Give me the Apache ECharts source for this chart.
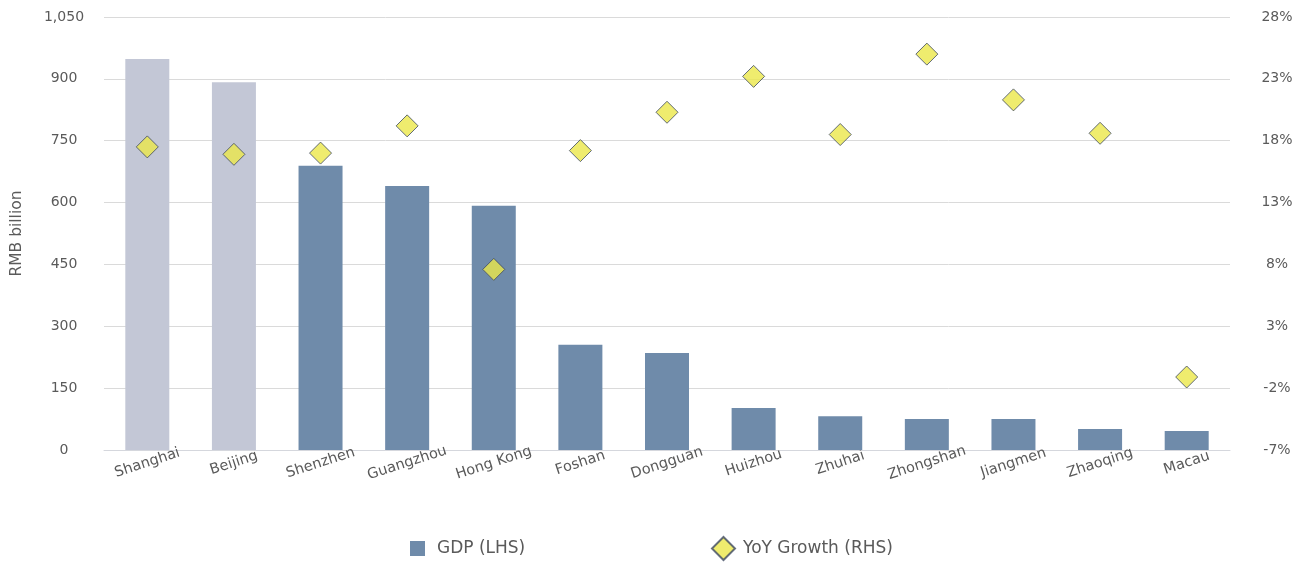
<!DOCTYPE html>
<html>
<head>
<meta charset="utf-8">
<script src="https://cdn.jsdelivr.net/npm/echarts@6/dist/echarts.min.js"></script>
<style>
  html, body { margin: 0; padding: 0; background: #ffffff; }
  #chart { width: 1306px; height: 562px; }
</style>
</head>
<body>
<div id="chart"></div>
<script>
// Cities in the order they are ranked by GDP
const cities = ['Shanghai', 'Beijing', 'Shenzhen', 'Guangzhou', 'Hong Kong', 'Foshan',
  'Dongguan', 'Huizhou', 'Zhuhai', 'Zhongshan', 'Jiangmen', 'Zhaoqing', 'Macau'];

// GDP, RMB billion (left axis)
const gdp = [948, 892, 689, 640, 592, 255, 235, 102, 82, 75, 75, 51, 46];

// Year-on-year growth, % (right axis)
const yoyGrowth = [17.5, 16.9, 17.0, 19.2, 7.6, 17.2, 20.3, 23.2, 18.5, 25.0, 21.3, 18.6, -1.1];

// Cities outside the Greater Bay Area, drawn in a lighter shade
const benchmarkCities = ['Shanghai', 'Beijing'];

// Right axis tick labels, %
const growthTicks = [-7, -2, 3, 8, 13, 18, 23, 28];

const FONT = 'DejaVu Sans';
const TEXT = '#5A5A5A';
const DARK = '#6F8BAA';
const LIGHT = '#C3C7D6';

const chart = echarts.init(document.getElementById('chart'), null, { renderer: 'canvas' });

chart.setOption({
  animation: false,
  backgroundColor: '#ffffff',
  textStyle: { fontFamily: FONT, color: TEXT },
  grid: { left: 104, right: 76, top: 17, bottom: 112, containLabel: false },
  legend: [
    {
      data: [{ name: 'GDP (LHS)', icon: 'rect' }],
      left: 410, top: 540, padding: 0,
      itemWidth: 15, itemHeight: 15, itemGap: 0,
      textStyle: { fontFamily: FONT, fontSize: 17, color: TEXT, padding: [0, 0, 0, 7] }
    },
    {
      data: ['YoY Growth (RHS)'],
      left: 711, top: 536, padding: 0,
      itemWidth: 23, itemHeight: 23, itemGap: 0,
      textStyle: { fontFamily: FONT, fontSize: 17, color: TEXT, padding: [0, 0, 0, 3] }
    }
  ],
  xAxis: {
    type: 'category',
    data: cities,
    axisLine: { show: true, lineStyle: { color: '#D5D7DD', width: 1 } },
    axisTick: { show: false },
    axisLabel: {
      rotate: 18,
      align: 'center',
      verticalAlign: 'middle',
      margin: 13,
      fontFamily: FONT,
      fontSize: 14.5,
      color: TEXT,
      interval: 0
    }
  },
  yAxis: [
    {
      type: 'value',
      min: 0, max: 1050, interval: 150,
      name: 'RMB billion',
      nameLocation: 'middle',
      nameGap: 79,
      nameTextStyle: { fontFamily: FONT, fontSize: 15.5, color: TEXT },
      axisLine: { show: false },
      axisTick: { show: false },
      splitLine: { show: true, lineStyle: { color: '#DADADA', width: 1 } },
      axisLabel: {
        align: 'center',
        margin: 40,
        fontFamily: FONT, fontSize: 14, color: TEXT,
        formatter: v => v.toLocaleString('en-US')
      }
    },
    {
      type: 'value',
      min: -7, max: 28,
      position: 'right',
      axisLine: { show: false },
      axisTick: { show: false },
      splitLine: { show: false },
      axisLabel: {
        customValues: growthTicks,
        align: 'center',
        margin: 47,
        fontFamily: FONT, fontSize: 14, color: TEXT,
        formatter: v => v + '%'
      }
    }
  ],
  series: [
    {
      name: 'GDP (LHS)',
      type: 'bar',
      yAxisIndex: 0,
      barWidth: 44,
      itemStyle: { color: DARK },
      data: gdp.map((v, i) => benchmarkCities.includes(cities[i])
        ? { value: v, itemStyle: { color: LIGHT } }
        : v),
      z: 1
    },
    {
      name: 'YoY Growth (RHS)',
      type: 'scatter',
      yAxisIndex: 1,
      symbol: 'diamond',
      symbolSize: 22,
      itemStyle: { color: '#EBE74A', borderColor: '#3E4A62', borderWidth: 1 },
      data: yoyGrowth,
      z: 3
    }
  ]
});
</script>
</body>
</html>
